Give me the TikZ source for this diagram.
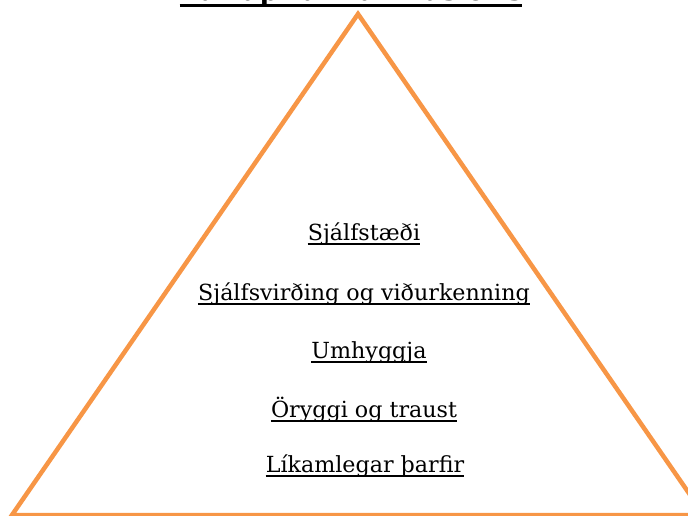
\documentclass[tikz,border=0pt]{standalone}
\usepackage{fontspec}
\setmainfont{DejaVu Serif}
\definecolor{pyr}{HTML}{F79646}
\begin{document}
\begin{tikzpicture}[x=1pt,y=1pt,
  lvl/.style={inner sep=0pt, anchor=base, font=\fontsize{22.2}{26}\selectfont},
  uline/.style={line width=1.4pt, black},
  edge/.style={draw=pyr, line width=4.5pt, line join=miter}]
\useasboundingbox (0,0) rectangle (688,-516);
\clip (0,0) rectangle (688,-516);
\coordinate (apex) at (358,-14);
\coordinate (bl) at (12,-515);
\coordinate (br) at (704,-515);
\draw[edge] (bl) -- (apex) -- (br) -- cycle;
\node[inner sep=0pt, anchor=base, font=\bfseries\fontsize{26.5}{30}\selectfont] (title) at (351,-1) {Þarfapíramídi Maslows};
\draw[line width=2.5pt] ([yshift=-4.5pt]title.base west) -- ([yshift=-4.5pt]title.base east);
\node[lvl] (l5) at (364,-240) {Sjálfstæði};
\node[lvl] (l4) at (364,-300) {Sjálfsvirðing og viðurkenning};
\node[lvl] (l3) at (369,-358) {Umhyggja};
\node[lvl] (l2) at (364,-417) {Öryggi og traust};
\node[lvl] (l1) at (365,-472) {Líkamlegar þarfir};
\foreach \n in {l1,l2,l3,l4,l5}
  \draw[uline] ([yshift=-4pt]\n.base west) -- ([yshift=-4pt]\n.base east);
\end{tikzpicture}
\end{document}
